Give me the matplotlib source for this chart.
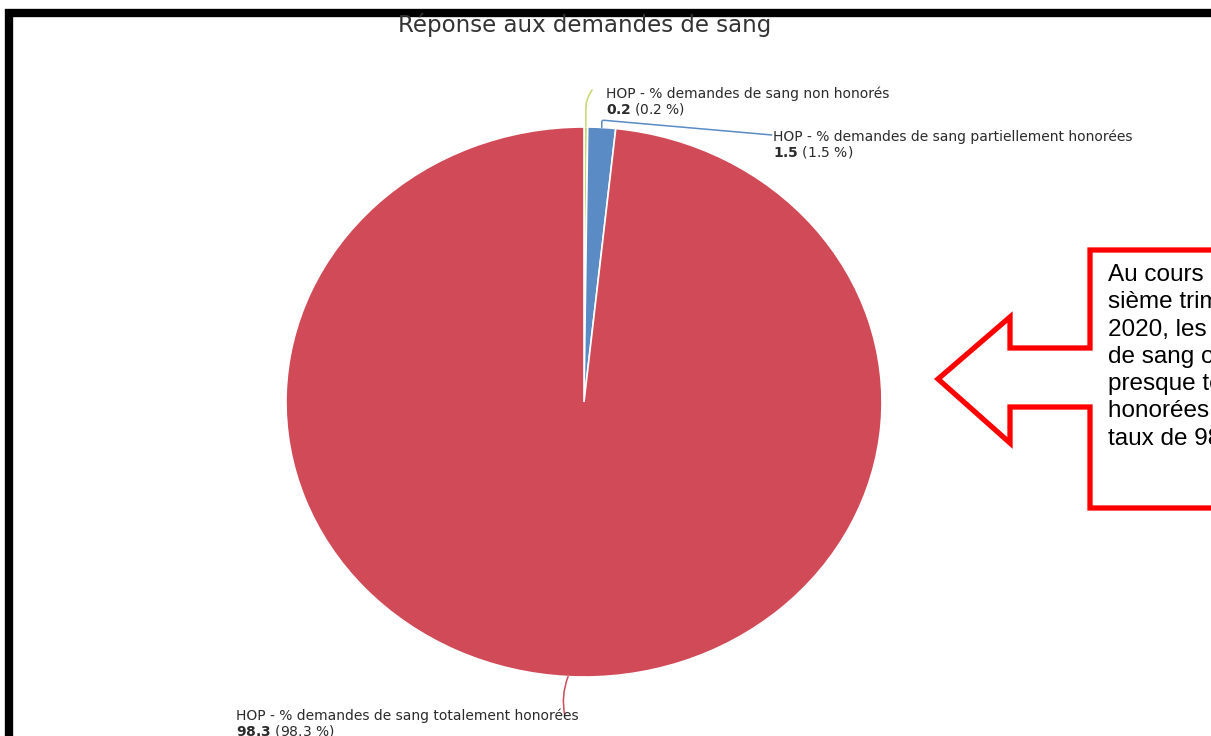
import numpy as np
import matplotlib.pyplot as plt
from matplotlib.patches import Polygon

# Blood request outcomes (HOP)
labels = [
    "HOP - % demandes de sang non honorés",
    "HOP - % demandes de sang partiellement honorées",
    "HOP - % demandes de sang totalement honorées",
]
values = [0.2, 1.5, 98.3]
colors = ["#c5d86d", "#5a8bc4", "#d14a58"]

title = "Réponse aux demandes de sang"
note_lines = [
    "Au cours du troi-",
    "sième trimestre",
    "2020, les demandes",
    "de sang ont été",
    "presque totalement",
    "honorées avec un",
    "taux de 98,3 %.",
]

W, H = 1211, 736
fig = plt.figure(figsize=(W / 100, H / 100), dpi=100)

# pie axes: unit circle is stretched into the ellipse of the slide
cx, cy, rx, ry = 584, 402, 298, 275
ax = fig.add_axes([(cx - rx) / W, (H - cy - ry) / H, 2 * rx / W, 2 * ry / H])
wedges, _ = ax.pie(values, colors=colors, startangle=90, counterclock=False,
                   wedgeprops=dict(edgecolor="white", linewidth=1.2))
ax.set_aspect("auto")
ax.set_xlim(-1, 1)
ax.set_ylim(-1, 1)
ax.axis("off")

# label placement (pie data units) and leader line bends
label_pos = [(0.075, 1.095), (0.635, 0.94), (-1.167, -1.169)]
line_end = [(0.027, 1.135), (0.63, 0.971), (-0.064, -1.142)]
conn = ["angle,angleA=60,angleB=90,rad=8",
        "angle,angleA=-5,angleB=90,rad=2",
        "arc3,rad=-0.15"]

for w, lab, val, pos, end, cs, col in zip(wedges, labels, values, label_pos,
                                          line_end, conn, colors):
    ang = np.deg2rad((w.theta1 + w.theta2) / 2)
    edge = (np.cos(ang), np.sin(ang))
    ax.annotate("", xy=edge, xytext=end, annotation_clip=False,
                arrowprops=dict(arrowstyle="-", color=col, lw=1.1,
                                shrinkA=0, shrinkB=0, connectionstyle=cs))
    ax.text(pos[0], pos[1], lab, fontsize=10, color="#2b2b2b",
            ha="left", va="bottom", clip_on=False)
    ax.text(pos[0], pos[1], r"$\mathbf{%.1f}$ (%.1f %%)" % (val, val),
            fontsize=10, color="#2b2b2b", ha="left", va="top", clip_on=False)

# overlay in pixel coordinates for the slide elements
ov = fig.add_axes([0, 0, 1, 1], zorder=5)
ov.set_xlim(0, W)
ov.set_ylim(H, 0)
ov.axis("off")
ov.patch.set_alpha(0)

ov.text(585, 25, title, fontsize=16.5, color="#333333", ha="center", va="center")

# slide border (top and left visible)
ov.plot([9, 9, W + 10], [H + 10, 13, 13], color="black", lw=6,
        solid_joinstyle="miter", clip_on=True)

# callout arrow pointing at the pie
callout = [(1300, 250), (1090, 250), (1090, 348), (1010, 348), (1010, 317),
           (938, 379), (1010, 443), (1010, 407), (1090, 407), (1090, 508),
           (1300, 508)]
ov.add_patch(Polygon(callout, closed=True, facecolor="white", edgecolor="#ff0000",
                     lw=3.8, joinstyle="miter", clip_on=True))
ov.text(1108, 264, "\n".join(note_lines), family="Liberation Sans", fontsize=17.5,
        color="black", ha="left", va="top", linespacing=1.31, clip_on=True)

fig.savefig("out.png", dpi=100)
